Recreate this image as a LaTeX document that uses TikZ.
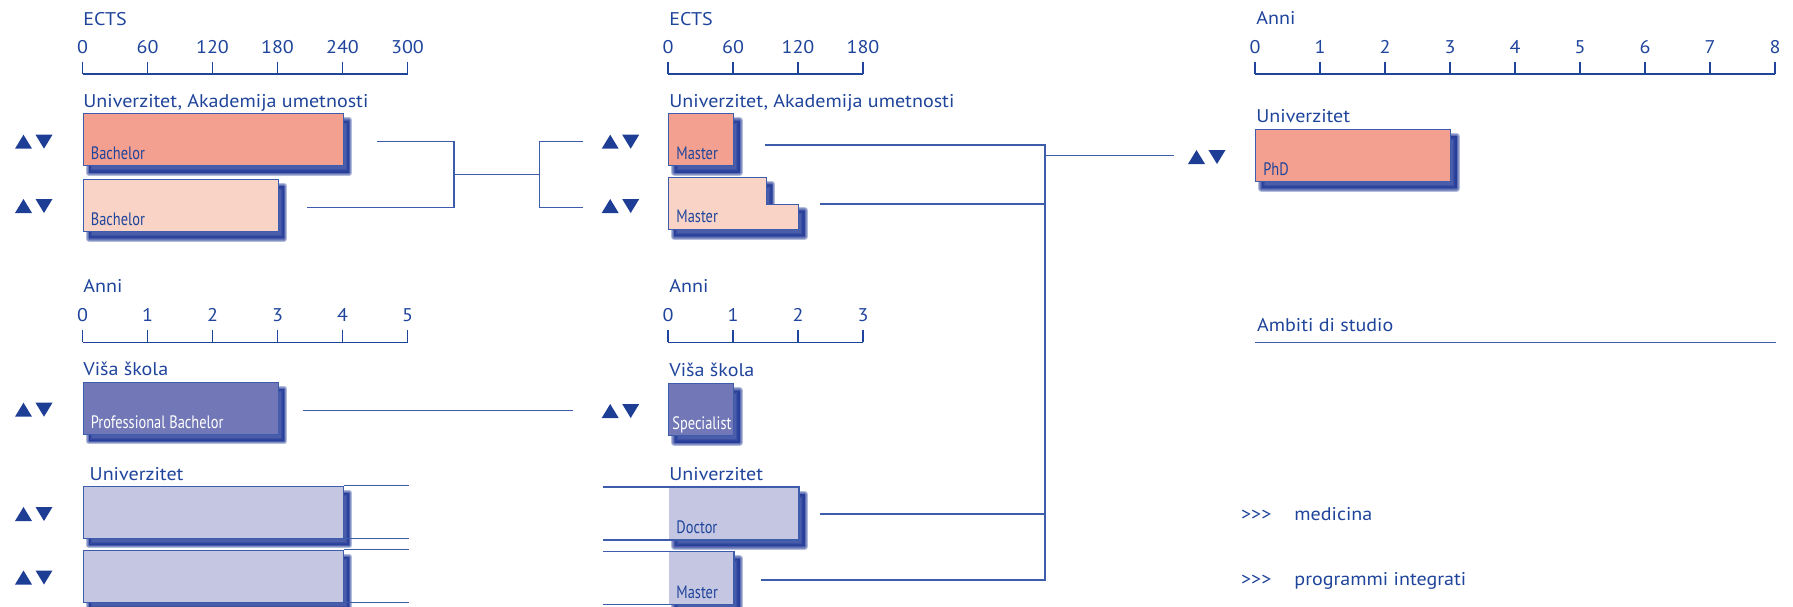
\documentclass[tikz,border=0pt]{standalone}
\usepackage{fontspec}
\setmainfont[FakeStretch=1.09]{PT Sans}
\newfontfamily\condfont[FakeStretch=0.8]{PT Sans}
\usepackage{tikz}
\usetikzlibrary{positioning}

\definecolor{inkblue}{RGB}{31,68,155}
\definecolor{lineblue}{RGB}{62,92,172}
\definecolor{triblue}{RGB}{30,62,150}
\definecolor{shadowblue}{RGB}{28,52,148}
\definecolor{salmon}{RGB}{244,160,144}
\definecolor{blush}{RGB}{249,211,198}
\definecolor{vsviolet}{RGB}{114,120,183}
\definecolor{lavender}{RGB}{197,198,226}

\begin{document}
\begin{tikzpicture}[
    x=0.5pt, y=-0.5pt,
    txt/.style={anchor=base west, inner sep=0pt, text=inkblue, font=\fontsize{9.2}{11}\selectfont},
    num/.style={anchor=base, inner sep=0pt, text=inkblue, font=\fontsize{9.2}{11}\selectfont},
    lbl/.style={anchor=base west, inner sep=0pt, text=#1, font=\condfont\fontsize{9}{10}\selectfont},
    lbl/.default=inkblue,
    blur/.style={preaction={draw=shadowblue, fill=shadowblue, line join=round, line width=#1,
      opacity=0.33, transform canvas={shift={(3pt,-3.4pt)}}}},
    shade box/.style={blur=3.4pt, blur=2.4pt, blur=1.4pt, blur=0.4pt},
    box/.style={draw=lineblue, line width=0.5pt, fill=#1, anchor=north west, inner sep=0pt, minimum height=26pt, shade box},
    box/.default=salmon,
    axis/.style={draw=inkblue, line width=0.6pt},
    conn/.style={draw=lineblue, line width=0.55pt},
    updown/.pic={\fill[triblue] (0,7) -- (17,7) -- (8.5,-7) -- cycle (20.5,-7) -- (37.5,-7) -- (29,7) -- cycle;},
]
\useasboundingbox (0,0) rectangle (1793,606);

% Scales
\foreach \v [count=\i from 0] in {0,60,...,300} {
  \draw[axis] (82.5+65*\i,61.7) -- (82.5+65*\i,74);
  \node[num] (ea\i) at (82.5+65*\i,53) {\v};
}
\draw[axis] (82.5,74) -- (407.5,74);
\foreach \v [count=\i from 0] in {0,60,120,180} {
  \draw[axis] (668+65*\i,61.7) -- (668+65*\i,74);
  \node[num] (eb\i) at (668+65*\i,53) {\v};
}
\draw[axis] (668,74) -- (863,74);
\foreach \i in {0,...,8} {
  \draw[axis] (1255+65*\i,61.7) -- (1255+65*\i,74);
  \node[num] (ac\i) at (1255+65*\i,53) {\i};
}
\draw[axis] (1255,74) -- (1775,74);
\foreach \i in {0,...,5} {
  \draw[axis] (82.5+65*\i,330) -- (82.5+65*\i,342.3);
  \node[num] (aa\i) at (82.5+65*\i,321) {\i};
}
\draw[axis] (82.5,342.3) -- (407.5,342.3);
\foreach \i in {0,...,3} {
  \draw[axis] (668+65*\i,330) -- (668+65*\i,342.3);
  \node[num] (ab\i) at (668+65*\i,321) {\i};
}
\draw[axis] (668,342.3) -- (863,342.3);

% Headings
\node[txt] (ects1) at (83,25) {ECTS};
\node[txt] (ects2) at (669,25) {ECTS};
\node[txt] (anni3) at (1256,24) {Anni};
\node[txt] (anni1) at (83,292.3) {Anni};
\node[txt] (anni2) at (669,292.3) {Anni};
\node[txt] (uau1) at (83,107) {Univerzitet, Akademija umetnosti};
\node[txt] (uau2) at (669,107.3) {Univerzitet, Akademija umetnosti};
\node[txt] (univ3) at (1256,122.7) {Univerzitet};
\node[txt] (visa1) at (83,375) {Viša škola};
\node[txt] (visa2) at (669,376.7) {Viša škola};
\node[txt] (univ1) at (89.3,480.7) {Univerzitet};
\node[txt] (univ2) at (669,480) {Univerzitet};

% Bachelor / Master / PhD
\node[box=salmon, minimum width=130pt] (bach1) at (82.5,113.3) {};
\node[box=blush, minimum width=97.5pt, below=6.3pt of bach1.south west, anchor=north west] (bach2) {};
\node[box=salmon, minimum width=32.5pt] (mas1) at (668,113.3) {};
\draw[draw=lineblue, line width=0.5pt, fill=blush, shade box] (668,177.7) -- (766,177.7) -- (766,204)
  -- (798.7,204) -- (798.7,229.3) -- (668,229.3) -- cycle;
\coordinate (mas2sw) at (668,229.3);
\node[box=salmon, minimum width=97.5pt] (phd) at (1255,129) {};
\node[lbl] (bach1l) at ([xshift=4pt,yshift=3.2pt]bach1.south west) {Bachelor};
\node[lbl] (bach2l) at ([xshift=4pt,yshift=3.2pt]bach2.south west) {Bachelor};
\node[lbl] (mas1l) at ([xshift=4pt,yshift=3.2pt]mas1.south west) {Master};
\node[lbl] (mas2l) at ([xshift=4pt,yshift=3.2pt]mas2sw) {Master};
\node[lbl] (phdl) at ([xshift=4pt,yshift=3.2pt]phd.south west) {PhD};

% Visa skola
\node[box=vsviolet, minimum width=97.5pt] (prof) at (82.5,381.7) {};
\node[box=vsviolet, minimum width=32.5pt] (spec) at (668,383.3) {};
\node[lbl=white] (profl) at ([xshift=4pt,yshift=3.3pt]prof.south west) {Professional Bachelor};
\node[lbl=white] (specl) at ([xshift=2pt,yshift=3.3pt]spec.south west) {Specialist};

% Univerzitet
\node[box=lavender, minimum width=130pt] (uni1) at (82.5,485.7) {};
\node[box=lavender, minimum width=130pt, below=5.5pt of uni1.south west, anchor=north west] (uni2) {};
\node[box=lavender, draw=none, minimum width=65pt] (doc) at (668,487) {};
\node[box=lavender, draw=none, minimum width=32.5pt, below=5.7pt of doc.south west, anchor=north west] (mast) {};
\node[lbl] (docl) at ([xshift=4pt,yshift=3.2pt]doc.south west) {Doctor};
\node[lbl] (mastl) at ([xshift=4pt,yshift=3.2pt]mast.south west) {Master};

% Ambiti
\node[txt] (ambiti) at (1256.7,331.7) {Ambiti di studio};
\coordinate (amb1) at (1255,342.3);
\coordinate (amb2) at (1776,342.3);
\draw[conn] (amb1) -- (amb2);
\node[txt] (gt1) at (1240.7,520) {{>}{>}{>}};
\node[txt] (med) at (1294,520) {medicina};
\node[txt] (gt2) at (1240.7,585) {{>}{>}{>}};
\node[txt] (prog) at (1294,585) {programmi integrati};

% Arrows up/down
\pic at (15,141.7) {updown};
\pic at (15,206) {updown};
\pic at (601.7,141.7) {updown};
\pic at (601.7,206) {updown};
\pic at (1188,157) {updown};
\pic at (15,409.7) {updown};
\pic at (601.7,411) {updown};
\pic at (15,514) {updown};
\pic at (15,577.5) {updown};

% Connectors
\coordinate (b1o) at (377,141.3);
\coordinate (b2o) at (307,207.7);
\coordinate (jl) at (454,174.3);
\coordinate (jr) at (539.3,174.3);
\coordinate (m1i) at (583.3,141.3);
\coordinate (m2i) at (583.3,207.7);
\draw[conn] (b1o) -| (jl) |- (b2o);
\draw[conn] (jl) -- (jr);
\draw[conn] (m1i) -| (jr) |- (m2i);
\coordinate (m1o) at (765,145);
\coordinate (m2o) at (820,204);
\coordinate (doco) at (820,514);
\coordinate (masto) at (761,580);
\coordinate (rb) at (1045,580);
\coordinate (jp) at (1045,155.7);
\coordinate (phdi) at (1174,155.7);
\draw[conn] (m1o) -| (rb) -- (masto);
\draw[conn] (m2o) -- (m2o -| rb);
\draw[conn] (doco) -- (doco -| rb);
\draw[conn] (jp) -- (phdi);
\coordinate (po) at (302.7,410.7);
\coordinate (si) at (572.7,410.7);
\draw[conn] (po) -- (si);
\draw[conn] (uni1.north east) -- ++(65,0);
\draw[conn] (uni1.south east) -- ++(65,0);
\draw[conn] (uni2.north east) -- ++(65,0);
\draw[conn] (uni2.south east) -- ++(65,0);
\coordinate (dt) at (603.3,487);
\draw[conn] (dt) -- (doc.north east) -- (doc.south east) -- (dt |- doc.south);
\draw[conn] (dt |- mast.north) -- (mast.north east) -- (mast.south east) -- (dt |- mast.south);
\end{tikzpicture}
\end{document}
